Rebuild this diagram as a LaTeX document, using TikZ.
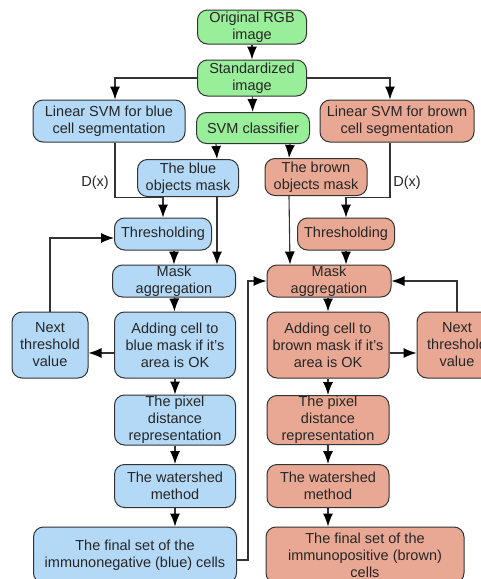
\documentclass[tikz,border=0pt]{standalone}
\usepackage{fontspec}
\setmainfont{Liberation Sans}
\usetikzlibrary{arrows.meta}
\definecolor{boxgreen}{HTML}{99EE99}
\definecolor{boxblue}{HTML}{B3D9F7}
\definecolor{boxbrown}{HTML}{E9A894}
\definecolor{edge}{HTML}{333333}
\tikzset{
  box/.style={draw=edge,line width=1pt,rounded corners=10pt,align=center,inner sep=0pt,
    text=black!85,font=\fontsize{14.5}{17}\selectfont},
  gbox/.style={box,fill=boxgreen},
  bbox/.style={box,fill=boxblue},
  rbox/.style={box,fill=boxbrown},
  arr/.style={draw=edge,line width=1.1pt,-{Latex[length=13pt,width=10pt,black]}},
  lbl/.style={text=black!85,font=\fontsize{14.5}{17}\selectfont},
}
\begin{document}
\begin{tikzpicture}[x=1pt,y=-1pt]
  \useasboundingbox (0,0) rectangle (481,579);
  \fill[white] (0,0) rectangle (481,579);
  % top part
  \node[gbox,minimum width=109,minimum height=34](orig)at(252,27){Original RGB\\image};
  \node[gbox,minimum width=109,minimum height=36](std)at(252,78){Standardized\\image};
  \node[bbox,minimum width=152,minimum height=42](linb)at(109,121){Linear SVM for blue\\cell segmentation};
  \node[gbox,minimum width=113,minimum height=31](svm)at(253,128){SVM classifier};
  \node[rbox,minimum width=154,minimum height=42](linr)at(397,121){Linear SVM for brown\\cell segmentation};
  \node[bbox,minimum width=101,minimum height=37](maskb)at(188,178){The blue\\objects mask};
  \node[rbox,minimum width=102,minimum height=37](maskr)at(316,177){The brown\\objects mask};
  \node[lbl](dxb)at(95,183){D(x)};
  \node[lbl](dxr)at(407,183){D(x)};
  % blue branch
  \node[bbox,minimum width=97,minimum height=32](thrb)at(163,234){Thresholding};
  \node[bbox,minimum width=123,minimum height=32](aggb)at(174,281){Mask\\aggregation};
  \node[bbox,minimum width=76,minimum height=66](nextb)at(50,345){Next\\threshold\\value};
  \node[bbox,minimum width=121,minimum height=66](addb)at(175,345){Adding cell to\\blue mask if it's\\area is OK};
  \node[bbox,minimum width=121,minimum height=50](pixb)at(175,420){The pixel\\distance\\representation};
  \node[bbox,minimum width=121,minimum height=43](watb)at(175,486){The watershed\\method};
  \node[bbox,minimum width=203,minimum height=56](finb)at(135,555){The final set of the\\immunonegative (blue) cells};
  % brown branch
  \node[rbox,minimum width=97,minimum height=32](thrr)at(346,234){Thresholding};
  \node[rbox,minimum width=124,minimum height=32](aggr)at(329,281){Mask\\aggregation};
  \node[rbox,minimum width=122,minimum height=66](addr)at(328,345){Adding cell to\\brown mask if it's\\area is OK};
  \node[rbox,minimum width=80,minimum height=66](nextr)at(457,345){Next\\threshold\\value};
  \node[rbox,minimum width=122,minimum height=49](pixr)at(328,420){The pixel\\distance\\representation};
  \node[rbox,minimum width=122,minimum height=43](watr)at(328,486){The watershed\\method};
  \node[rbox,minimum width=198,minimum height=56](finr)at(365,555){The final set of the\\immunopositive (brown)\\cells};
  % connectors
  \draw[arr](orig)--(std);
  \draw[arr](std)--(svm);
  \draw[arr](std.west)-|([xshift=6]linb.north);
  \draw[arr](std.east)-|([xshift=-7]linr.north);
  \draw[arr]([xshift=20]svm.south west)--([xshift=29]maskb.north);
  \draw[arr]([xshift=-20]svm.south east)--([xshift=-27]maskr.north);
  \draw[arr]([xshift=6]linb.south)|-([yshift=20]thrb.north)--(thrb.north);
  \draw[arr]([xshift=-7]linr.south)|-([yshift=20]thrr.north)--(thrr.north);
  \draw[arr]([xshift=29]maskb.south)--([xshift=43]aggb.north);
  \draw[arr]([xshift=-27]maskr.south)--([xshift=-39]aggr.north);
  \draw[arr](aggb.north|-thrb.south)--(aggb.north);
  \draw[arr](thrr.south)--(thrr.south|-aggr.north);
  \draw[arr](aggb)--(addb);
  \draw[arr](aggr.south-|addr.north)--(addr.north);
  \draw[arr]([yshift=-8]addb.west)--([yshift=-8]nextb.east);
  \draw[arr]([yshift=-8]addr.east)--([yshift=-8]nextr.west);
  \draw[arr](nextb.north)|-([yshift=-4]thrb.west);
  \draw[arr](nextr.north)|-(aggr.east);
  \draw[arr](addb)--(pixb);
  \draw[arr](pixb)--(watb);
  \draw[arr](watb.south)--(watb.south|-finb.north);
  \draw[arr](addr)--(pixr);
  \draw[arr](pixr)--(watr);
  \draw[arr](watr.south)--(watr.south|-finr.north);
  \draw[arr]([yshift=-5]finb.east)--++(11,0)|-(aggr.west);
\end{tikzpicture}
\end{document}
